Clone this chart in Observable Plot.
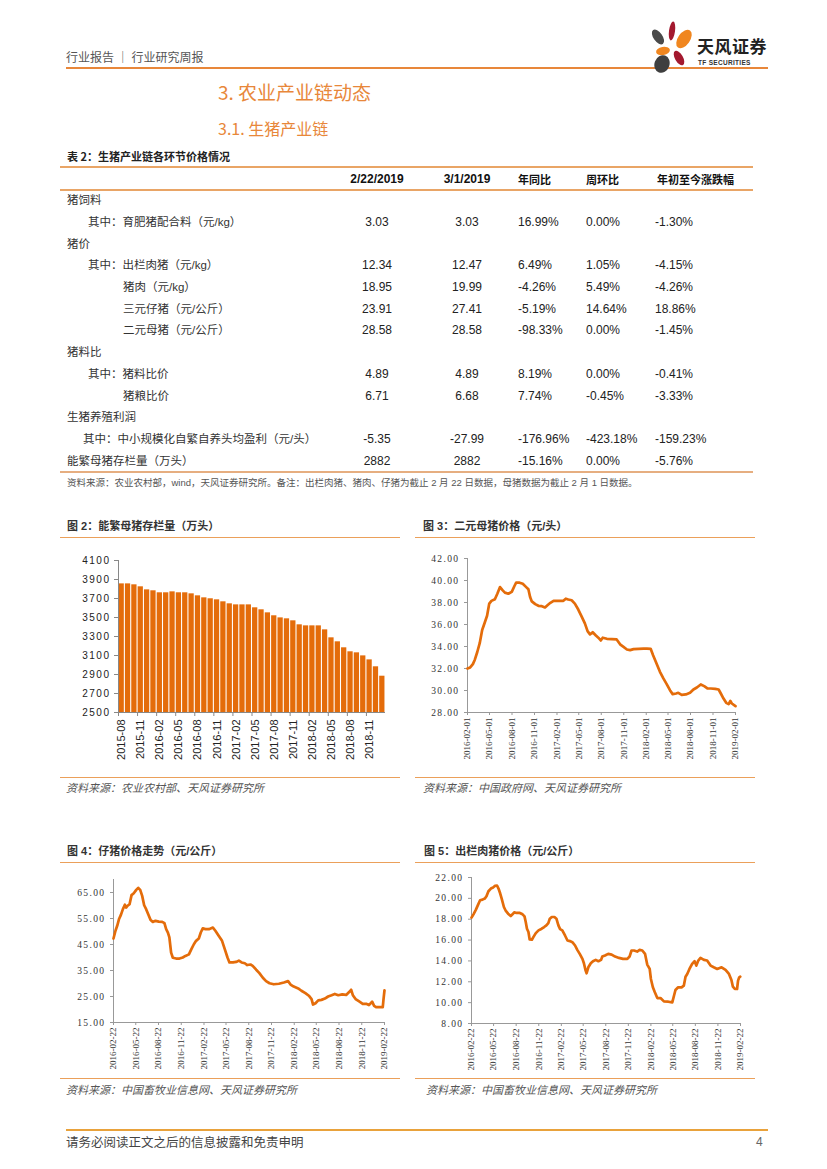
<!DOCTYPE html>
<html><head><meta charset="utf-8">
<script src="https://cdn.jsdelivr.net/npm/d3@7"></script>
<script src="https://cdn.jsdelivr.net/npm/@observablehq/plot@0.6"></script>
<style>
body{margin:0;background:#fff;}
#page{position:relative;width:827px;height:1169px;overflow:hidden;font-family:"Liberation Sans","Noto Sans CJK SC",sans-serif;color:#222;background:#fff;}
.t{position:absolute;white-space:nowrap;line-height:18px;height:18px;}
.hl{position:absolute;}
.chart{position:absolute;}
.chart svg{overflow:visible;display:block;}
#c2 g[aria-label="y-axis tick label"] text{letter-spacing:1.5px;}
.serif g[aria-label="y-axis tick label"] text{letter-spacing:1.4px;}
</style></head>
<body><div id="page"></div>
<script>
// ---------------- DATA ----------------
const tableColumns = ["2/22/2019", "3/1/2019", "年同比", "周环比", "年初至今涨跌幅"];
const rowLabels = ["猪饲料", "其中：育肥猪配合料（元/kg）", "猪价", "其中：出栏肉猪（元/kg）", "猪肉（元/kg）", "三元仔猪（元/公斤）", "二元母猪（元/公斤）", "猪料比", "其中：猪料比价", "猪粮比价", "生猪养殖利润", "其中：中小规模化自繁自养头均盈利（元/头）", "能繁母猪存栏量（万头）"];
const rowLevels = [0, 1, 0, 1, 2, 2, 2, 0, 1, 2, 0, 3, 0];
const colPrev = ["", "3.03", "", "12.34", "18.95", "23.91", "28.58", "", "4.89", "6.71", "", "-5.35", "2882"];
const colCurr = ["", "3.03", "", "12.47", "19.99", "27.41", "28.58", "", "4.89", "6.68", "", "-27.99", "2882"];
const colYoY = ["", "16.99%", "", "6.49%", "-4.26%", "-5.19%", "-98.33%", "", "8.19%", "7.74%", "", "-176.96%", "-15.16%"];
const colWoW = ["", "0.00%", "", "1.05%", "5.49%", "14.64%", "0.00%", "", "0.00%", "-0.45%", "", "-423.18%", "0.00%"];
const colYTD = ["", "-1.30%", "", "-4.15%", "-4.26%", "18.86%", "-1.45%", "", "-0.41%", "-3.33%", "", "-159.23%", "-5.76%"];

// Fig 2: breeding sow inventory (10k head)
const sowMonths = ["2015-08","2015-09","2015-10","2015-11","2015-12","2016-01","2016-02","2016-03","2016-04","2016-05","2016-06","2016-07","2016-08","2016-09","2016-10","2016-11","2016-12","2017-01","2017-02","2017-03","2017-04","2017-05","2017-06","2017-07","2017-08","2017-09","2017-10","2017-11","2017-12","2018-01","2018-02","2018-03","2018-04","2018-05","2018-06","2018-07","2018-08","2018-09","2018-10","2018-11","2018-12","2019-01"];
const sowStock = [3854,3854,3844,3823,3791,3781,3760,3760,3770,3760,3760,3749,3728,3707,3697,3686,3665,3644,3633,3633,3633,3602,3581,3549,3518,3496,3486,3465,3423,3412,3412,3412,3370,3286,3244,3181,3139,3128,3096,3054,2981,2882];
const sowMonthTicks = ["2015-08","2015-11","2016-02","2016-05","2016-08","2016-11","2017-02","2017-05","2017-08","2017-11","2018-02","2018-05","2018-08","2018-11"];
const sowStockTicks = [2500,2700,2900,3100,3300,3500,3700,3900,4100];

// Fig 3: binary sow price
const sowPriceDates = ["2016-02-01","2016-02-12","2016-02-23","2016-03-02","2016-03-12","2016-03-22","2016-04-01","2016-04-12","2016-04-21","2016-04-30","2016-05-09","2016-05-23","2016-06-02","2016-06-13","2016-06-24","2016-07-03","2016-07-17","2016-07-31","2016-08-11","2016-08-18","2016-09-01","2016-09-14","2016-09-28","2016-10-07","2016-10-14","2016-10-21","2016-11-04","2016-11-17","2016-12-01","2016-12-14","2016-12-24","2017-01-05","2017-01-18","2017-02-08","2017-02-27","2017-03-09","2017-03-19","2017-04-02","2017-04-15","2017-04-29","2017-05-12","2017-05-26","2017-06-06","2017-06-16","2017-06-27","2017-07-10","2017-07-20","2017-07-30","2017-08-07","2017-08-24","2017-09-13","2017-10-03","2017-10-17","2017-10-31","2017-11-14","2017-11-27","2017-12-11","2018-01-01","2018-01-21","2018-02-04","2018-02-19","2018-03-01","2018-03-15","2018-03-29","2018-04-12","2018-04-25","2018-05-09","2018-05-20","2018-06-03","2018-06-12","2018-06-26","2018-07-13","2018-07-30","2018-08-13","2018-08-27","2018-09-12","2018-09-26","2018-10-09","2018-10-23","2018-11-10","2018-11-24","2018-12-03","2018-12-14","2018-12-25","2019-01-04","2019-01-11","2019-01-17","2019-02-01"];
const sowPriceValues = [32.0,32.1,32.4,32.8,33.5,34.3,35.5,36.2,36.8,37.9,38.15,38.3,38.8,39.4,39.1,38.9,38.8,38.97,39.5,39.8,39.8,39.7,39.4,39.2,38.5,38.1,37.85,37.7,37.67,37.55,37.75,37.97,38.15,38.15,38.15,38.35,38.27,38.2,37.9,37.36,36.76,36.1,35.4,35.1,35.3,35.0,34.8,34.55,34.8,34.7,34.67,34.64,34.2,33.97,33.73,33.67,33.76,33.79,33.8,33.8,33.79,33.2,32.45,31.7,31.1,30.6,30.03,29.67,29.73,29.79,29.6,29.64,29.79,30.09,30.27,30.55,30.4,30.2,30.18,30.15,30.09,29.73,29.27,28.88,28.76,29.06,28.82,28.58];
const sowPriceTicks = ["2016-02-01","2016-05-01","2016-08-01","2016-11-01","2017-02-01","2017-05-01","2017-08-01","2017-11-01","2018-02-01","2018-05-01","2018-08-01","2018-11-01","2019-02-01"];
const sowPriceYTicks = [28,30,32,34,36,38,40,42];

// Fig 4: piglet price
const pigletDates = ["2016-02-22","2016-03-01","2016-03-08","2016-03-15","2016-03-23","2016-03-31","2016-04-08","2016-04-13","2016-04-19","2016-04-27","2016-05-05","2016-05-14","2016-05-24","2016-06-01","2016-06-09","2016-06-17","2016-06-25","2016-07-03","2016-07-11","2016-07-21","2016-07-30","2016-08-10","2016-08-23","2016-09-06","2016-09-15","2016-09-22","2016-09-29","2016-10-05","2016-10-12","2016-10-19","2016-11-01","2016-11-15","2016-11-28","2016-12-09","2016-12-23","2017-01-02","2017-01-12","2017-01-21","2017-02-01","2017-02-09","2017-02-17","2017-02-28","2017-03-14","2017-03-30","2017-04-09","2017-04-23","2017-05-06","2017-05-17","2017-05-28","2017-06-05","2017-06-19","2017-07-02","2017-07-13","2017-07-24","2017-08-06","2017-08-16","2017-08-29","2017-09-07","2017-09-21","2017-10-04","2017-10-18","2017-10-31","2017-11-14","2017-12-01","2017-12-22","2018-01-11","2018-01-28","2018-02-07","2018-02-20","2018-03-10","2018-03-23","2018-04-08","2018-04-22","2018-05-03","2018-05-09","2018-05-19","2018-05-30","2018-06-12","2018-06-26","2018-07-09","2018-07-23","2018-08-05","2018-08-19","2018-09-04","2018-09-20","2018-10-03","2018-10-10","2018-10-17","2018-10-28","2018-11-10","2018-11-26","2018-12-10","2018-12-21","2019-01-03","2019-01-11","2019-01-19","2019-02-02","2019-02-15","2019-02-18","2019-02-22"];
const pigletValues = [47.3,50.3,52.2,54.7,56.4,58.6,60.3,59.2,59.9,60.5,64.0,64.7,66.0,66.8,66.0,63.7,60.1,58.6,56.7,54.4,53.7,54.1,53.8,53.7,53.2,50.9,49.6,47.7,41.9,39.9,39.6,39.6,40.0,40.6,41.2,43.2,45.1,46.4,47.3,49.6,51.2,50.9,50.9,51.5,50.3,48.3,46.4,43.2,40.0,38.1,38.1,38.3,38.8,38.1,37.8,37.1,37.3,36.8,35.3,34.0,32.2,30.9,30.1,29.7,29.9,30.4,30.9,29.6,28.8,28.1,27.2,26.3,25.3,24.0,21.9,22.4,23.5,23.7,24.2,25.0,25.5,26.0,25.5,25.8,25.6,26.8,27.6,25.5,24.0,23.2,22.2,22.2,21.7,23.0,21.4,20.9,20.9,20.9,23.91,27.41];
const pigletTicks = ["2016-02-22","2016-05-22","2016-08-22","2016-11-22","2017-02-22","2017-05-22","2017-08-22","2017-11-22","2018-02-22","2018-05-22","2018-08-22","2018-11-22","2019-02-22"];
const pigletYTicks = [15,25,35,45,55,65];
const pigletYDomain = [15, 70];

// Fig 5: finishing hog price
const hogDates = ["2016-02-22","2016-03-01","2016-03-11","2016-03-20","2016-03-28","2016-04-07","2016-04-16","2016-04-23","2016-05-01","2016-05-11","2016-05-20","2016-05-28","2016-06-05","2016-06-11","2016-06-18","2016-06-24","2016-07-03","2016-07-11","2016-07-20","2016-07-31","2016-08-07","2016-08-14","2016-08-24","2016-09-06","2016-09-17","2016-09-25","2016-09-30","2016-10-05","2016-10-11","2016-10-16","2016-10-25","2016-10-31","2016-11-10","2016-11-21","2016-12-04","2016-12-14","2016-12-23","2016-12-31","2017-01-06","2017-01-14","2017-01-25","2017-02-02","2017-02-10","2017-02-17","2017-02-26","2017-03-09","2017-03-19","2017-03-29","2017-04-08","2017-04-19","2017-04-28","2017-05-08","2017-05-19","2017-05-25","2017-06-01","2017-06-05","2017-06-12","2017-06-22","2017-07-01","2017-07-12","2017-07-23","2017-08-03","2017-08-08","2017-08-19","2017-09-01","2017-09-15","2017-09-29","2017-10-15","2017-10-31","2017-11-18","2017-11-27","2017-12-05","2017-12-15","2017-12-28","2018-01-07","2018-01-18","2018-01-29","2018-02-07","2018-02-17","2018-02-22","2018-03-02","2018-03-10","2018-03-20","2018-04-02","2018-04-16","2018-05-04","2018-05-20","2018-05-27","2018-06-02","2018-06-13","2018-06-27","2018-07-06","2018-07-13","2018-07-20","2018-07-29","2018-08-09","2018-08-19","2018-08-26","2018-09-03","2018-09-12","2018-09-26","2018-10-09","2018-10-23","2018-11-05","2018-11-19","2018-12-07","2018-12-23","2019-01-06","2019-01-16","2019-01-22","2019-01-30","2019-02-08","2019-02-12","2019-02-17","2019-02-21"];
const hogValues = [18.15,18.47,18.92,19.4,19.82,19.88,19.98,20.2,20.68,20.94,21.04,21.2,21.23,20.94,20.46,19.98,19.17,18.79,18.53,18.31,18.47,18.66,18.6,18.6,18.47,18.27,17.73,17.09,16.77,16.06,16.03,16.28,16.67,16.93,17.09,17.25,17.41,17.63,18.05,18.21,18.21,18.05,17.41,17.05,16.93,16.44,15.96,15.9,15.8,15.48,15.06,14.68,14.2,13.78,13.07,12.82,13.39,13.78,13.97,14.1,13.97,14.1,14.42,14.52,14.68,14.61,14.42,14.29,14.2,14.2,14.42,15.0,15.0,14.9,15.06,15.0,14.68,13.65,13.23,12.27,11.47,10.99,10.44,10.44,10.12,10.09,10.02,10.66,11.21,11.47,11.47,11.63,12.49,12.75,13.23,13.71,13.97,13.55,14.04,14.29,14.1,14.04,13.55,13.39,13.23,13.39,13.14,12.75,12.17,11.53,11.31,11.31,12.11,12.43,12.49];
const hogTicks = pigletTicks;
const hogYTicks = [8,10,12,14,16,18,20,22];

// ---------------- STYLE ----------------
const orange = "#E8873A";
const barColor = "#E46C0A";
const lineColor = "#E46C0A";
const ruleOrange = "#EBA05A";

const page = document.getElementById("page");
function txt(s, x, cy, st = {}, align = "left") {
  const d = document.createElement("div");
  d.className = "t";
  d.textContent = s;
  d.style.left = x + "px";
  d.style.top = (cy - 9) + "px";
  Object.assign(d.style, st);
  if (align === "center") d.style.transform = "translateX(-50%)";
  page.appendChild(d);
  return d;
}
function hline(x, y, w, h, color) {
  const d = document.createElement("div");
  d.className = "hl";
  Object.assign(d.style, {left: x + "px", top: y + "px", width: w + "px", height: h + "px", background: color});
  page.appendChild(d);
}
const cjk = {fontFamily: '"Noto Sans CJK SC", sans-serif'};

// ---------------- HEADER ----------------
txt("行业报告 ｜ 行业研究周报", 66, 57, {...cjk, fontSize: "12px", color: "#555"});
hline(66, 67, 702, 2, orange);
page.insertAdjacentHTML("beforeend", `
<svg style="position:absolute;left:644px;top:19px" width="52" height="56" viewBox="0 0 52 56">
  <ellipse cx="14" cy="18" rx="4.5" ry="8.5" fill="#4a4a4a" transform="rotate(-35 14 18)"/>
  <ellipse cx="28" cy="12" rx="3" ry="9.5" fill="#A3192F" transform="rotate(8 28 12)"/>
  <ellipse cx="40" cy="20" rx="6" ry="10.5" fill="#F0861F" transform="rotate(35 40 20)"/>
  <ellipse cx="19" cy="32" rx="7" ry="4" fill="#F0861F" transform="rotate(-10 19 32)"/>
  <ellipse cx="35" cy="39" rx="4" ry="8" fill="#A3192F" transform="rotate(-30 35 39)"/>
  <ellipse cx="18" cy="45" rx="7.5" ry="9" fill="#3f3f3f" transform="rotate(20 18 45)"/>
</svg>`);
txt("天风证券", 697, 46, {...cjk, fontSize: "17px", fontWeight: "700", color: "#222", letterSpacing: "0.5px"});
txt("TF SECURITIES", 698, 63, {fontSize: "6.5px", fontWeight: "700", color: "#333", letterSpacing: "0.3px"});

// ---------------- HEADINGS ----------------
txt("3. 农业产业链动态", 218, 92, {...cjk, fontSize: "19px", color: orange});
txt("3.1. 生猪产业链", 218, 128, {...cjk, fontSize: "16px", color: orange});
txt("表 2：生猪产业链各环节价格情况", 67, 156, {...cjk, fontSize: "11px", fontWeight: "700", color: "#222"});

// ---------------- TABLE ----------------
hline(60, 166, 693, 2, "#E9A566");
hline(60, 189, 693, 1.5, "#E9A566");
hline(60, 471, 693, 2, "#E6AE80");
const colX = [377, 467, 518, 586, 655];
const colAlign = ["center", "center", "left", "left", "left"];
tableColumns.forEach((c, j) => {
  txt(c, colX[j] + (j === 4 ? 2 : 0), 178.5, {fontSize: j < 2 ? "12px" : "11px", fontWeight: "700", color: "#111", fontFamily: j < 2 ? '"Liberation Sans", sans-serif' : cjk.fontFamily}, colAlign[j]);
});
const levelX = [67, 88, 123, 83];
const cols = [colPrev, colCurr, colYoY, colWoW, colYTD];
rowLabels.forEach((lab, i) => {
  const cy = 200.2 + i * 21.7;
  txt(lab, levelX[rowLevels[i]], cy, {fontFamily: '"Liberation Sans","Noto Sans CJK SC",sans-serif', fontSize: "11.5px", color: "#333"});
  cols.forEach((col, j) => {
    if (col[i]) txt(col[i], colX[j], cy, {fontSize: "12px", color: "#222"}, colAlign[j]);
  });
});
txt("资料来源：农业农村部，wind，天风证券研究所。备注：出栏肉猪、猪肉、仔猪为截止 2 月 22 日数据，母猪数据为截止 2 月 1 日数据。", 67, 483, {fontSize: "9.5px", color: "#555"});

// ---------------- FIGURE FRAMES ----------------
txt("图 2：能繁母猪存栏量（万头）", 67, 526, {fontSize: "11px", fontWeight: "700", color: "#333"});
txt("图 3：二元母猪价格（元/头）", 423, 526, {fontSize: "11px", fontWeight: "700", color: "#333"});
txt("图 4：仔猪价格走势（元/公斤）", 67, 851, {fontSize: "11px", fontWeight: "700", color: "#333"});
txt("图 5：出栏肉猪价格（元/公斤）", 424, 851, {fontSize: "11px", fontWeight: "700", color: "#333"});
hline(60, 537, 340, 1, ruleOrange);
hline(415, 537, 340, 1, ruleOrange);
hline(60, 862, 340, 1, ruleOrange);
hline(415, 862, 340, 1, ruleOrange);
hline(60, 777, 340, 1, ruleOrange);
hline(415, 777, 340, 1, ruleOrange);
hline(60, 1078, 340, 1, ruleOrange);
hline(415, 1078, 340, 1, ruleOrange);
const srcStyle = {fontSize: "11px", fontStyle: "italic", color: "#555"};
txt("资料来源：农业农村部、天风证券研究所", 66, 788, srcStyle);
txt("资料来源：中国政府网、天风证券研究所", 423, 788, srcStyle);
txt("资料来源：中国畜牧业信息网、天风证券研究所", 66, 1090, srcStyle);
txt("资料来源：中国畜牧业信息网、天风证券研究所", 426, 1090, srcStyle);

// ---------------- FOOTER ----------------
hline(66, 1129, 702, 2, "#E9A23B");
txt("请务必阅读正文之后的信息披露和免责申明", 66, 1142, {...cjk, fontSize: "12.5px", color: "#444"});
txt("4", 756, 1142, {fontSize: "12px", color: "#666"});

// ---------------- CHARTS ----------------
function place(id, left, top, svg, cls) {
  const d = document.createElement("div");
  d.className = "chart" + (cls ? " " + cls : "");
  d.id = id;
  d.style.left = left + "px";
  d.style.top = top + "px";
  d.appendChild(svg);
  page.appendChild(d);
}

// Figure 2 bar chart
{
  const W = 335, ML = 58, MR = 10;
  const step = (W - ML - MR) / sowMonths.length;
  const data = sowMonths.map((m, i) => ({month: m, value: sowStock[i]}));
  const yMin = sowStockTicks[0];
  const svg = Plot.plot({
    width: W, height: 214, marginLeft: ML, marginRight: MR, marginTop: 12, marginBottom: 50,
    style: {background: "transparent", color: "#222", fontFamily: '"Liberation Sans", sans-serif', overflow: "visible"},
    x: {type: "band", domain: sowMonths, paddingInner: 0.17, paddingOuter: 0.085, round: false, align: 0.5},
    y: {domain: [yMin, sowStockTicks[sowStockTicks.length - 1]]},
    marks: [
      Plot.barY(data, {x: "month", y1: () => yMin, y2: "value", fill: barColor}),
      Plot.ruleY([yMin], {stroke: "#888"}),
      Plot.ruleX([sowMonths[0]], {dx: -step / 2, stroke: "#888"}),
      Plot.axisY(sowStockTicks, {tickSize: 4, tickPadding: 4, tickFormat: d => String(d), fontSize: 10, stroke: "#888", fill: "#222", label: null}),
      Plot.axisX(sowMonthTicks, {tickSize: 0, tickPadding: 7, tickRotate: -90, fontSize: 11, fill: "#222", label: null}),
      Plot.axisX(sowMonthTicks, {tickSize: 4, dx: -step / 2, tickFormat: () => "", stroke: "#888", label: null})
    ]
  });
  place("c2", 60, 548, svg);
}

function lineChart(id, left, top, W, H, m, dates, values, yTicks, yDomain, xTicks) {
  const data = dates.map((d, i) => ({date: new Date(d), value: values[i]}));
  const xt = xTicks.map(d => new Date(d));
  const svg = Plot.plot({
    width: W, height: H, marginLeft: m[0], marginTop: m[1], marginRight: m[2], marginBottom: m[3],
    style: {background: "transparent", color: "#333", fontFamily: '"Liberation Serif", serif', overflow: "visible"},
    x: {type: "utc", domain: [xt[0], xt[xt.length - 1]]},
    y: {domain: yDomain},
    marks: [
      Plot.ruleX([xt[0]], {stroke: "#999"}),
      Plot.ruleY([yDomain[0]], {stroke: "#999"}),
      Plot.axisY(yTicks, {tickSize: 3, tickPadding: 5, tickFormat: d3.format(".2f"), fontSize: 9.5, fontFamily: '"Liberation Serif", serif', fill: "#333", stroke: "#999", label: null}),
      Plot.axisX(xt, {tickSize: 3, tickPadding: 2, tickRotate: -90, tickFormat: d3.utcFormat("%Y-%m-%d"), fontSize: 9, fontFamily: '"Liberation Serif", serif', fill: "#333", stroke: "#999", label: null}),
      Plot.line(data, {x: "date", y: "value", stroke: lineColor, strokeWidth: 2.7, strokeLinejoin: "round", strokeLinecap: "round"})
    ]
  });
  place(id, left, top, svg, "serif");
}

lineChart("c3", 414, 548, 336, 216, [53, 10, 15, 52], sowPriceDates, sowPriceValues, sowPriceYTicks, [28, 42], sowPriceTicks);
lineChart("c4", 60, 870, 336, 204, [53, 9, 12, 52], pigletDates, pigletValues, pigletYTicks, pigletYDomain, pigletTicks);
lineChart("c5", 414, 868, 336, 207, [57, 9, 10, 52], hogDates, hogValues, hogYTicks, [8, 22], hogTicks);
</script></body></html>
